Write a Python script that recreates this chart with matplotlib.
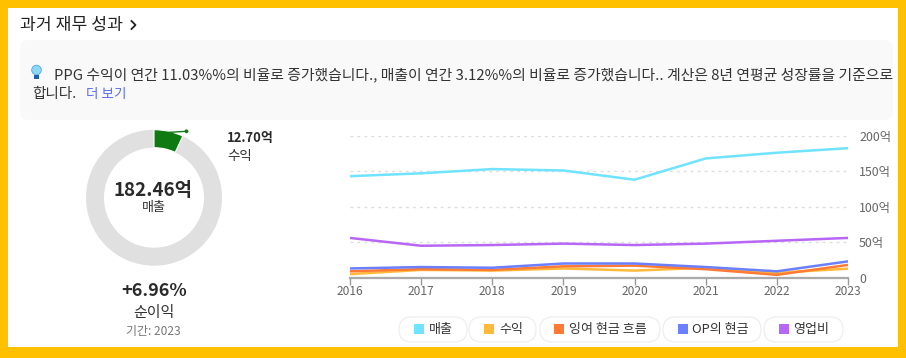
import matplotlib
matplotlib.use("Agg")
import matplotlib.pyplot as plt
from matplotlib.patches import Rectangle, FancyBboxPatch, Wedge, Circle

plt.rcParams['font.family'] = ['Noto Sans CJK KR', 'DejaVu Sans']

years = [2016, 2017, 2018, 2019, 2020, 2021, 2022, 2023]
revenue = [143, 147, 153, 151, 138, 168, 176, 182.46]
profit = [5, 11, 10, 13, 10, 14, 7, 12.7]
free_cash = [9, 12, 11, 16, 17, 12, 4, 18]
op_cash = [13, 15, 14, 20, 20, 15, 9, 23]
opex = [56, 45, 46, 48, 46, 48, 52, 56]
yticks = [0, 50, 100, 150, 200]
ylabels = ['0', '50억', '100억', '150억', '200억']
series_names = ['매출', '수익', '잉여 현금 흐름', 'OP의 현금', '영업비']
series_colors = ['#6FE3FF', '#FFBA3B', '#FF7B35', '#6B7FFF', '#B866F5']
revenue_total = 182.46
profit_total = 12.70

W, H = 906, 358
BORDER = '#FFC000'
fig = plt.figure(figsize=(W / 100, H / 100), dpi=100, facecolor=BORDER)

def px(size):
    return size * 72 / 100

ov = fig.add_axes([0, 0, 1, 1])
ov.set_xlim(0, W)
ov.set_ylim(H, 0)
ov.axis('off')
ov.set_aspect('equal')

ov.add_patch(Rectangle((8, 8), 890, 339, fc='white', ec='none', zorder=0))
ov.add_patch(FancyBboxPatch((24, 44), 865, 72, boxstyle='round,pad=0,rounding_size=4',
                            fc='#F9F9F9', ec='#F9F9F9', lw=8 * 0.72, zorder=1))

ov.text(20, 25, '과거 재무 성과', fontsize=px(17.2), color='#222222', weight='medium', va='center')
ov.plot([131.5, 135.5, 131.5], [21, 25, 29], color='#222222', lw=1.3, zorder=3)

# bulb icon
ov.add_patch(Circle((36.5, 70), 4.8, fc='#8FD6F5', ec='#4FA8DC', lw=0.6, zorder=3))
ov.add_patch(Rectangle((34.2, 74.5), 4.6, 4, fc='#1F5FA8', ec='none', zorder=3))

ov.text(54, 74.5, 'PPG 수익이 연간 11.03%%의 비율로 증가했습니다., 매출이 연간 3.12%%의 비율로 증가했습니다.. 계산은 8년 연평균 성장률을 기준으로',
        fontsize=px(14.85), color='#333333', va='center', zorder=3)
ov.text(32, 94, '합니다.', fontsize=px(14.6), color='#333333', va='center', zorder=3)
ov.text(86, 94, '더 보기', fontsize=px(13.6), color='#5B6CF0', va='center', zorder=3)

# donut
cx, cy, ro, ri = 154, 197.7, 68, 50
ov.add_patch(Wedge((cx, cy), ro, 0, 360, width=ro - ri, fc='#E0E0E0', ec='none', zorder=2))
ang = 360 * profit_total / revenue_total
ov.add_patch(Wedge((cx, cy), ro, -90, -90 + ang, width=ro - ri, fc='#0F7A12', ec='white', lw=0.8, zorder=3))
ov.plot([167, 186.5], [132.5, 131.3], color='#0F7A12', lw=1, zorder=4)
ov.add_patch(Circle((186.5, 131.3), 1.9, fc='#0F7A12', ec='none', zorder=4))

ov.text(227, 138, f'{profit_total:.2f}억', fontsize=px(13), color='#2A2A2A', weight='bold', va='center')
ov.text(227, 156, '수익', fontsize=px(13.5), color='#333333', va='center')
ov.text(152.5, 191, f'{revenue_total:.2f}억', fontsize=px(18.8), color='#2A2A2A', weight='bold', ha='center', va='center')
ov.text(153.5, 208, '매출', fontsize=px(13), color='#333333', ha='center', va='center')
ov.text(154, 291, '+6.96%', fontsize=px(18), color='#2A2A2A', weight='bold', ha='center', va='center')
ov.text(153.5, 313, '순이익', fontsize=px(15), color='#333333', ha='center', va='center')
ov.text(153.5, 332, '기간: 2023', fontsize=px(12), color='#777777', ha='center', va='center')

# legend
pills = [(399, 68), (469, 67), (540, 120), (663, 98), (764, 79)]
swatches = [414, 484, 554, 677.5, 778.6]
for (x, w), sx, name, col in zip(pills, swatches, series_names, series_colors):
    ov.add_patch(FancyBboxPatch((x, 317), w, 25, boxstyle='round,pad=0,rounding_size=12.5',
                                fc='white', ec='#EEEEEE', lw=0.9, zorder=2))
    ov.add_patch(Rectangle((sx, 324), 10, 10, fc=col, ec='none', zorder=3))
    ov.text(sx + 15, 329, name, fontsize=px(13), color='#333333', va='center', zorder=3)

# line chart
L, R, T, B = 350, 848, 135.7, 277.7
ax = fig.add_axes([L / W, 1 - B / H, (R - L) / W, (B - T) / H])
ax.patch.set_alpha(0)
ax.set_xlim(years[0], years[-1])
ax.set_ylim(0, 200)
for vals, col in zip([revenue, profit, free_cash, op_cash, opex],
                     series_colors):
    ax.plot(years, vals, color=col, lw=1.8, clip_on=False, zorder=3,
            solid_joinstyle='round', solid_capstyle='butt')
for s in ['top', 'left', 'right']:
    ax.spines[s].set_visible(False)
ax.spines['bottom'].set_color('#AAAAAA')
ax.spines['bottom'].set_linewidth(1.6)
ax.spines['bottom'].set_linestyle((0, (1, 0.6)))
ax.set_xticks(years)
ax.set_xticklabels([str(y) for y in years])
ax.tick_params(axis='x', length=5, width=1, color='#999999', labelcolor='#666666',
               labelsize=px(12), pad=0)
ax.yaxis.tick_right()
ax.set_yticks(yticks)
ax.set_yticklabels(ylabels)
ax.tick_params(axis='y', length=0, labelcolor='#666666', labelsize=px(12.4), pad=8)
ax.grid(axis='y', color='#DDDDDD', lw=1, linestyle=(0, (2, 3)))
ax.set_axisbelow(True)

fig.savefig('out.png', dpi=100, facecolor=BORDER)
